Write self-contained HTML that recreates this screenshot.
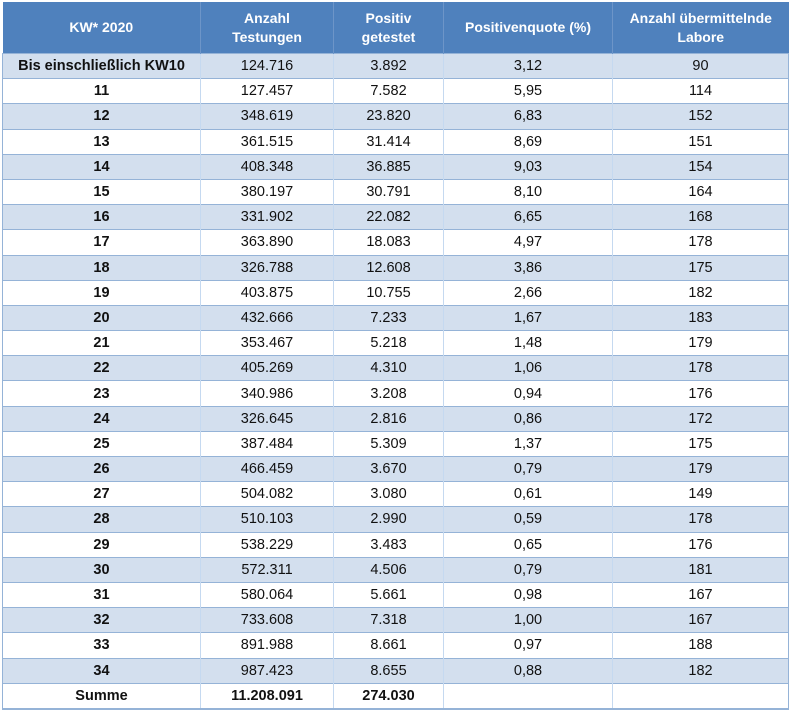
<!DOCTYPE html>
<html><head><meta charset="utf-8"><style>
body{margin:0;background:#fff;width:791px;height:715px;overflow:hidden}
table{position:absolute;left:2px;top:2px;border-collapse:collapse;table-layout:fixed;width:786px;font-family:"Liberation Sans",sans-serif;font-size:14.5px;color:#111}
th{background:#4f81bd;color:#fff;font-weight:bold;height:51px;padding:0;border-right:1px solid #6d95c8;line-height:19px;font-size:14px}
th:last-child{border-right:none}
td{height:24.2px;padding:0;text-align:center;border-top:1px solid #95b3d7;border-left:1px solid #c5d9f0;border-right:1px solid #c5d9f0}
td:first-child{border-left:1px solid #95b3d7}
td:last-child{border-right:1px solid #95b3d7}
tr:nth-child(odd) td{background:#d3dfee}
tr:nth-child(even) td{background:#fff}
td:first-child{font-weight:bold}
tr:last-child td{border-bottom:2px solid #95b3d7;background:#fff;font-weight:bold}
</style></head><body>
<table>
<colgroup><col style="width:198px"><col style="width:133px"><col style="width:110px"><col style="width:169px"><col style="width:176px"></colgroup>
<thead><tr><th>KW* 2020</th><th>Anzahl<br>Testungen</th><th>Positiv<br>getestet</th><th>Positivenquote (%)</th><th>Anzahl übermittelnde<br>Labore</th></tr></thead>
<tbody>
<tr><td>Bis einschließlich KW10</td><td>124.716</td><td>3.892</td><td>3,12</td><td>90</td></tr>
<tr><td>11</td><td>127.457</td><td>7.582</td><td>5,95</td><td>114</td></tr>
<tr><td>12</td><td>348.619</td><td>23.820</td><td>6,83</td><td>152</td></tr>
<tr><td>13</td><td>361.515</td><td>31.414</td><td>8,69</td><td>151</td></tr>
<tr><td>14</td><td>408.348</td><td>36.885</td><td>9,03</td><td>154</td></tr>
<tr><td>15</td><td>380.197</td><td>30.791</td><td>8,10</td><td>164</td></tr>
<tr><td>16</td><td>331.902</td><td>22.082</td><td>6,65</td><td>168</td></tr>
<tr><td>17</td><td>363.890</td><td>18.083</td><td>4,97</td><td>178</td></tr>
<tr><td>18</td><td>326.788</td><td>12.608</td><td>3,86</td><td>175</td></tr>
<tr><td>19</td><td>403.875</td><td>10.755</td><td>2,66</td><td>182</td></tr>
<tr><td>20</td><td>432.666</td><td>7.233</td><td>1,67</td><td>183</td></tr>
<tr><td>21</td><td>353.467</td><td>5.218</td><td>1,48</td><td>179</td></tr>
<tr><td>22</td><td>405.269</td><td>4.310</td><td>1,06</td><td>178</td></tr>
<tr><td>23</td><td>340.986</td><td>3.208</td><td>0,94</td><td>176</td></tr>
<tr><td>24</td><td>326.645</td><td>2.816</td><td>0,86</td><td>172</td></tr>
<tr><td>25</td><td>387.484</td><td>5.309</td><td>1,37</td><td>175</td></tr>
<tr><td>26</td><td>466.459</td><td>3.670</td><td>0,79</td><td>179</td></tr>
<tr><td>27</td><td>504.082</td><td>3.080</td><td>0,61</td><td>149</td></tr>
<tr><td>28</td><td>510.103</td><td>2.990</td><td>0,59</td><td>178</td></tr>
<tr><td>29</td><td>538.229</td><td>3.483</td><td>0,65</td><td>176</td></tr>
<tr><td>30</td><td>572.311</td><td>4.506</td><td>0,79</td><td>181</td></tr>
<tr><td>31</td><td>580.064</td><td>5.661</td><td>0,98</td><td>167</td></tr>
<tr><td>32</td><td>733.608</td><td>7.318</td><td>1,00</td><td>167</td></tr>
<tr><td>33</td><td>891.988</td><td>8.661</td><td>0,97</td><td>188</td></tr>
<tr><td>34</td><td>987.423</td><td>8.655</td><td>0,88</td><td>182</td></tr>
<tr><td>Summe</td><td>11.208.091</td><td>274.030</td><td></td><td></td></tr>
</tbody></table>
</body></html>
